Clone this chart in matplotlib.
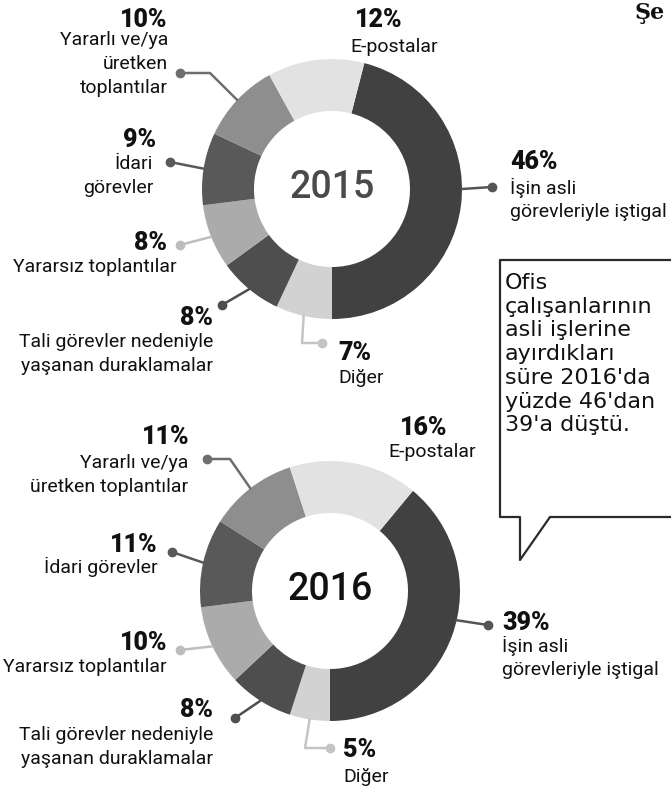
import numpy as np
import matplotlib.pyplot as plt

# veriler
kategoriler = ["İşin asli görevleriyle iştigal", "Diğer",
               "Tali görevler nedeniyle yaşanan duraklamalar",
               "Yararsız toplantılar", "İdari görevler",
               "Yararlı ve/ya üretken toplantılar", "E-postalar"]
yuzde_2015 = [46, 7, 8, 8, 9, 10, 12]
yuzde_2016 = [39, 5, 8, 10, 11, 11, 16]

etiket_2015 = ["İşin asli\ngörevleriyle iştigal", "Diğer",
               "Tali görevler nedeniyle\nyaşanan duraklamalar",
               "Yararsız toplantılar", "İdari\ngörevler",
               "Yararlı ve/ya\nüretken\ntoplantılar", "E-postalar"]
etiket_2016 = ["İşin asli\ngörevleriyle iştigal", "Diğer",
               "Tali görevler nedeniyle\nyaşanan duraklamalar",
               "Yararsız toplantılar", "İdari görevler",
               "Yararlı ve/ya\nüretken toplantılar", "E-postalar"]

balon_satirlari = ["Ofis", "çalışanlarının", "asli işlerine", "ayırdıkları",
                   "süre 2016'da", "yüzde 46'dan", "39'a düştü."]

renkler = ["#414141", "#d2d2d2", "#4e4e4e", "#ababab", "#595959", "#8e8e8e", "#e2e2e2"]
cizgi_renk = ["#555555", "#c4c4c4", "#4e4e4e", "#bdbdbd", "#595959", "#6e6e6e", None]

W, H = 671, 790
FONT = ['Roboto', 'DejaVu Sans']

fig = plt.figure(figsize=(W / 100, H / 100), dpi=100)
ax = fig.add_axes([0, 0, 1, 1])


def fy(y):
    return H - y


def yaz(x, y, s, ha, size=14, weight='normal', color='#111111', aralik=24):
    for i, satir in enumerate(s.split("\n")):
        ax.text(x, fy(y + i * aralik), satir, ha=ha, va='center', fontsize=size,
                fontweight=weight, color=color, family=FONT)


# yerlesim: (yuzde x, y, ha), (isim x, y, ha), nokta, dirsek, halka acisi
duzen_2015 = [
    ((510, 162, 'left'), (510, 188, 'left'), (492, 187), None, 0.0),
    ((338, 353, 'left'), (338, 378, 'left'), (322, 343), (302, 343), None),
    ((213, 318, 'right'), (213, 342, 'right'), (222, 305), None, None),
    ((167, 243, 'right'), (177, 267, 'right'), (180, 245), None, None),
    ((156, 140, 'right'), (153, 164, 'right'), (170, 162), None, None),
    ((167, 20, 'right'), (168, 40, 'right'), (180, 73), (210, 73), None),
    ((355, 20, 'left'), (350, 47, 'left'), None, None, None),
]
duzen_2016 = [
    ((502, 623, 'left'), (502, 646, 'left'), (488, 625), None, -13.0),
    ((343, 750, 'left'), (343, 777, 'left'), (330, 748), (305, 748), None),
    ((213, 710, 'right'), (213, 735, 'right'), (235, 718), None, None),
    ((167, 643, 'right'), (167, 667, 'right'), (180, 650), None, None),
    ((158, 545, 'right'), (158, 567, 'right'), (172, 552), None, None),
    ((190, 437, 'right'), (188, 463, 'right'), (207, 459), (230, 459), None),
    ((400, 428, 'left'), (388, 452, 'left'), None, None, None),
]


def halka(merkez, degerler, etiketler, duzen, yil, yil_renk):
    cx, cy = merkez
    R = 130
    # ana dilim saat 6 yonunde biter
    wedges, _ = ax.pie(degerler, colors=renkler, radius=R, center=(cx, fy(cy)),
                       startangle=-90 + 3.6 * degerler[0], counterclock=False,
                       wedgeprops=dict(width=52, linewidth=0))
    for w, val, ad, d, rc in zip(wedges, degerler, etiketler, duzen, cizgi_renk):
        (px, py, pha), (nx, ny, nha), nokta, dirsek, aci = d
        yaz(px, py, f"{val}%", pha, size=18, weight='black')
        yaz(nx, ny, ad, nha, size=14)
        if nokta is None:
            continue
        if aci is None:
            aci = (w.theta1 + w.theta2) / 2
        ax_ = cx + R * np.cos(np.radians(aci))
        ay_ = fy(cy) + R * np.sin(np.radians(aci))
        xs, ys = [ax_], [ay_]
        if dirsek is not None:
            xs.append(dirsek[0])
            ys.append(fy(dirsek[1]))
        xs.append(nokta[0])
        ys.append(fy(nokta[1]))
        ax.plot(xs, ys, color=rc, lw=1.8, solid_capstyle='round', zorder=1)
        ax.plot(nokta[0], fy(nokta[1]), 'o', color=rc, ms=6, zorder=2)
    ax.text(cx, fy(cy - 1), yil, ha='center', va='center', fontsize=27,
            fontweight='medium', color=yil_renk, family=FONT)


halka((332, 189), yuzde_2015, etiket_2015, duzen_2015, "2015", "#4a4a4a")
halka((330, 591), yuzde_2016, etiket_2016, duzen_2016, "2016", "#111111")

# konusma balonu
bx = [W + 5, 500, 500, 520, 520, 550, W + 5]
by = [260, 260, 517, 517, 560, 517, 517]
ax.plot(bx, [fy(v) for v in by], color='#2a2a2a', lw=1.6)
for i, satir in enumerate(balon_satirlari):
    ax.text(505, fy(283 + i * 23.7), satir, ha='left', va='center', fontsize=16,
            color='#111111', family=['DejaVu Sans'])

ax.text(634, fy(13), "Şe", ha='left', va='center', fontsize=16,
        fontweight='bold', family=['DejaVu Serif'], color='#111111')

ax.set_xlim(0, W)
ax.set_ylim(0, H)
ax.set_aspect('equal')
ax.axis('off')
fig.savefig('out.png', dpi=100, facecolor='white')
